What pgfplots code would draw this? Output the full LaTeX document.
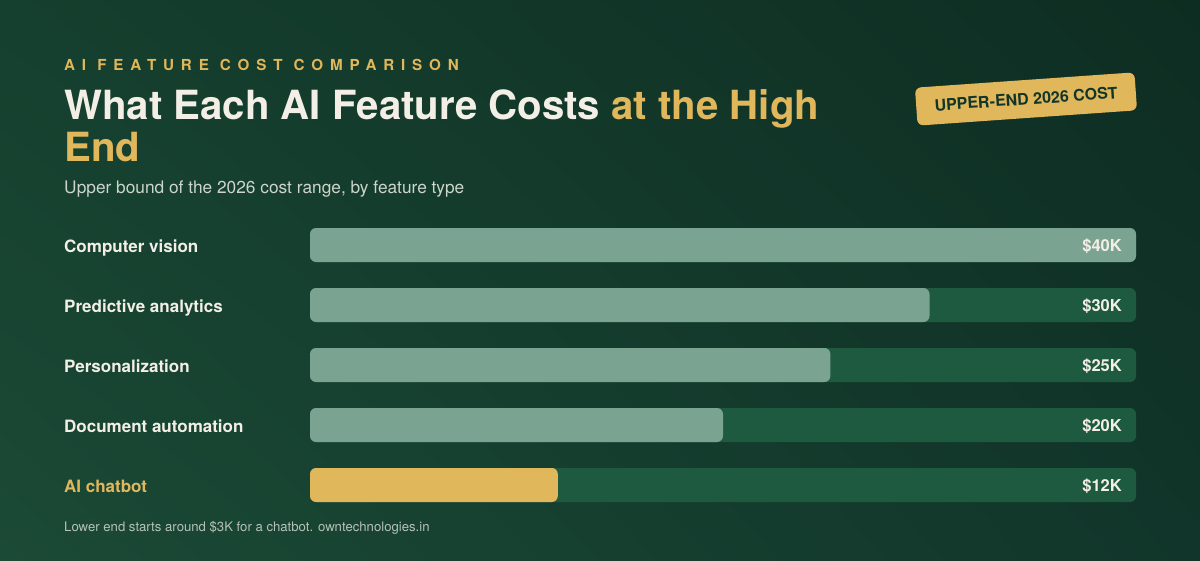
\documentclass[border=0pt]{standalone}
\usepackage{pgfplots}
\pgfplotsset{compat=1.18}
\usetikzlibrary{shadings}
\usepackage{fontspec}
\setmainfont{TeX Gyre Heros}

\definecolor{bgTL}{HTML}{153F2E}
\definecolor{bgTR}{HTML}{0E2D22}
\definecolor{bgBL}{HTML}{1B4A36}
\definecolor{bgBR}{HTML}{11352A}
\definecolor{track}{HTML}{1E5A40}
\definecolor{sage}{HTML}{7BA391}
\definecolor{gold}{HTML}{E1B75C}
\definecolor{cream}{HTML}{F3EFE6}
\definecolor{subgray}{HTML}{CDD5CC}
\definecolor{footgray}{HTML}{B5C2B8}
\definecolor{badgetext}{HTML}{12352A}

\begin{document}
\begin{tikzpicture}[x=1pt,y=1pt]
% background
\shade[lower left=bgBL, lower right=bgBR, upper left=bgTL, upper right=bgTR]
  (0,0) rectangle (1200,560);

% header texts
\node[anchor=base west, inner sep=0pt, text=gold,
      font=\fontsize{15.2}{15}\selectfont\bfseries\addfontfeature{LetterSpace=45}]
  at (64,489) {AI FEATURE COST COMPARISON};
\node[anchor=base west, inner sep=0pt, text=cream, font=\fontsize{40.2}{40}\selectfont\bfseries]
  at (64,440) {What Each AI Feature Costs \textcolor{gold}{at the High}};
\node[anchor=base west, inner sep=0pt, text=gold, font=\fontsize{40.2}{40}\selectfont\bfseries]
  at (64,398) {End};
\node[anchor=base west, inner sep=0pt, text=subgray, font=\fontsize{17.3}{17}\selectfont]
  at (64,366) {Upper bound of the 2026 cost range, by feature type};
\node[anchor=base west, inner sep=0pt, text=footgray, font=\fontsize{13.15}{13}\selectfont]
  at (64,29) {Lower end starts around \$3K for a chatbot. owntechnologies.in};

% badge
\node[rotate=4, fill=gold, rounded corners=6pt, minimum width=220pt, minimum height=38pt,
      text=badgetext, font=\fontsize{16}{16}\selectfont\bfseries]
  at (1026,461) {UPPER-END 2026 COST};

\begin{axis}[
    at={(310pt,45pt)}, anchor=south west,
    scale only axis,
    width=826pt, height=300pt,
    xmin=0, xmax=40,
    ymin=-0.5, ymax=4.5,
    y dir=reverse,
    axis line style={draw=none},
    major tick length=0pt,
    xtick=\empty,
    ytick={0,1,2,3,4},
    yticklabels={Computer vision, Predictive analytics, Personalization,
                 Document automation, \textcolor{gold}{AI chatbot}},
    yticklabel style={anchor=base west, inner sep=0pt, xshift=-246pt, yshift=-7pt,
                      text=cream, font=\fontsize{17}{17}\selectfont\bfseries},
    clip=false,
]
% full-width tracks
\addplot[xbar, bar width=34pt, bar shift=0pt, draw=none, fill=track, rounded corners=6pt]
  coordinates {(40,0) (40,1) (40,2) (40,3) (40,4)};
% upper-end cost, in thousands of dollars (bar lengths as drawn)
\addplot[xbar, bar width=34pt, bar shift=0pt, draw=none, fill=sage, rounded corners=6pt]
  coordinates {(40,0) (30,1) (25.2,2) (20,3)};
\addplot[xbar, bar width=34pt, bar shift=0pt, draw=none, fill=gold, rounded corners=6pt]
  coordinates {(12,4)};
% value labels at the track end
\addplot[draw=none, mark=none, nodes near coords, point meta=explicit symbolic,
    nodes near coords style={anchor=base east, inner sep=0pt, xshift=-14pt, yshift=-6.5pt,
                             text=cream, font=\fontsize{16.5}{16.5}\selectfont\bfseries}]
  coordinates {(40,0) [\$40K] (40,1) [\$30K] (40,2) [\$25K] (40,3) [\$20K] (40,4) [\$12K]};
\end{axis}
\end{tikzpicture}
\end{document}
